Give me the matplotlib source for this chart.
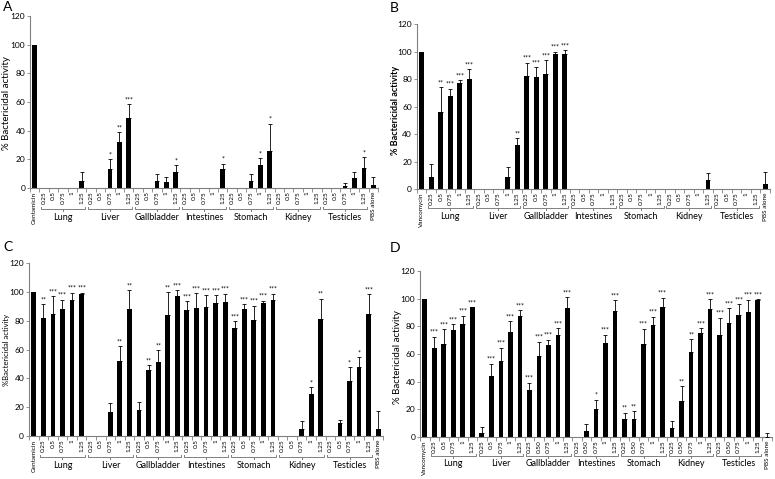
import numpy as np
import matplotlib
matplotlib.use('Agg')
import matplotlib.pyplot as plt
from matplotlib.transforms import ScaledTranslation

plt.rcParams['font.family'] = ['Lato', 'DejaVu Sans']

# Dados
organs = ['Lung', 'Liver', 'Gallbladder', 'Intestines', 'Stomach', 'Kidney', 'Testicles']
conc = ['0.25', '0.5', '0.75', '1', '1.25']
conc_d = ['0.25', '0.50', '0.75', '1', '1.25']

# Painel A (gentamicina)
a_values = [100,
            0, 0, 0, 0, 5,
            0, 0, 13, 32, 49,
            0, 0, 5, 4, 11,
            0, 0, 0, 0, 13,
            0, 0, 5, 16, 26,
            0, 0, 0, 0, 0,
            0, 0, 1.5, 7, 14,
            2]
a_errors = [0,
            0, 0, 0, 0, 6,
            0, 0, 7, 7, 9.5,
            0, 0, 4.5, 4, 5,
            0, 0, 0, 0, 4,
            0, 0, 5, 5, 19,
            0, 0, 0, 0, 0,
            0, 0, 2, 4, 7.5,
            5.5]
a_stars = ['',
           '', '', '', '', '',
           '', '', '*', '**', '***',
           '', '', '', '', '*',
           '', '', '', '', '*',
           '', '', '', '*', '*',
           '', '', '', '', '',
           '', '', '', '', '*',
           '']

# Painel B (vancomicina)
b_values = [100,
            8.5, 56, 67.5, 77, 80,
            0, 0, 0, 8.5, 32,
            82, 81.5, 84, 98, 98.5,
            0, 0, 0, 0, 0,
            0, 0, 0, 0, 0,
            0, 0, 0, 0, 6.5,
            0, 0, 0, 0, 0,
            3.4]
b_errors = [0,
            9.5, 18, 5.5, 2, 7.4,
            0, 0, 0, 7.2, 5,
            10, 7.4, 9.7, 2, 2.5,
            0, 0, 0, 0, 0,
            0, 0, 0, 0, 0,
            0, 0, 0, 0, 5.4,
            0, 0, 0, 0, 0,
            9.2]
b_stars = ['',
           '', '**', '***', '***', '***',
           '', '', '', '', '**',
           '***', '***', '***', '***', '***',
           '', '', '', '', '',
           '', '', '', '', '',
           '', '', '', '', '',
           '', '', '', '', '',
           '']

# Painel C (gentamicina)
c_values = [100,
            82, 84.6, 88.2, 94.7, 98.8,
            0, 0, 16.4, 52.3, 88,
            17.8, 45.6, 51, 84, 97,
            87.3, 89, 89.4, 92.4, 92.9,
            75, 87.8, 80.4, 92, 94.2,
            0, 0, 5, 29, 81,
            0, 8.8, 38.5, 48, 85,
            5]
c_errors = [0,
            9.7, 12.4, 6.5, 4.8, 0.7,
            0, 0, 6.2, 10.1, 13.5,
            5.5, 3.4, 8.5, 16, 4,
            6.2, 10, 8.3, 5.3, 5.9,
            4.7, 3.7, 10.1, 2, 4.6,
            0, 0, 5.4, 4.9, 14.4,
            0, 2.2, 9.5, 6.8, 13.4,
            12]
c_stars = ['',
           '**', '***', '***', '***', '***',
           '', '', '', '**', '**',
           '', '**', '**', '**', '***',
           '***', '***', '***', '***', '***',
           '***', '***', '***', '***', '***',
           '', '', '', '*', '**',
           '', '', '*', '*', '***',
           '']

# Painel D (vancomicina)
d_values = [100,
            64, 67.5, 77, 81.4, 94,
            2.7, 44.3, 55, 76, 87.7,
            33.7, 58.3, 66.3, 74, 93.5,
            0, 4, 20.5, 68, 91,
            13.3, 13.3, 67, 80.7, 94,
            6.5, 26, 61.2, 75.2, 92.3,
            74, 82.6, 88.2, 90.4, 98.8,
            0]
d_errors = [0,
            8.5, 10.3, 4.4, 6.3, 0,
            4.8, 8.7, 9.6, 7.6, 4.3,
            5.6, 10.7, 4.1, 5, 7.9,
            0, 5.6, 6.5, 6, 7.8,
            4.3, 5.7, 11.3, 6.3, 6.7,
            5.3, 10.6, 9.4, 3.8, 7.5,
            12.3, 10.4, 7.8, 8.9, 0.7,
            3]
d_stars = ['',
           '***', '***', '***', '***', '***',
           '', '***', '***', '***', '***',
           '***', '***', '***', '***', '***',
           '', '', '*', '***', '***',
           '**', '**', '***', '***', '***',
           '', '**', '**', '***', '***',
           '***', '***', '***', '***', '***',
           '']

W, H = 775, 479


def draw_panel(ax, letter, letter_xy, control, values, errors, stars, tick_groups,
               ylabel, ylabel_xy, ylabel_size=7, ylabel_weight='normal',
               brace_off=15, label_off=21.5):
    values = np.array(values, dtype=float)
    errors = np.array(errors, dtype=float)
    x = np.arange(len(values))

    labels = [control]
    for g in tick_groups:
        labels += g
    labels.append('PBS alone')

    ax.bar(x, values, width=0.5, color='black', zorder=2)
    has_err = errors > 0
    ax.errorbar(x[has_err], values[has_err],
                yerr=[np.zeros(has_err.sum()), errors[has_err]],
                fmt='none', ecolor='black', elinewidth=0.6, capsize=1.3, capthick=0.6, zorder=3)
    for xi, v, e, s in zip(x, values, errors, stars):
        if s:
            ax.text(xi, v + e + 0.5, s, ha='center', va='bottom', fontsize=5)

    ax.set_xlim(-0.5, len(values) - 0.5)
    ax.set_ylim(0, 120)
    ax.set_yticks(range(0, 121, 20))
    ax.set_xticks(x)
    ax.set_xticklabels(labels, rotation=90, fontsize=4.6)
    ax.set_xticks(np.arange(-0.5, len(values)), minor=True)
    ax.tick_params(axis='x', which='major', length=0, pad=2.5)
    ax.tick_params(axis='x', which='minor', length=3, width=0.6, color='#808080')
    ax.tick_params(axis='y', labelsize=6, length=2, width=0.6, color='#808080', pad=1.5)
    for side in ['top', 'right']:
        ax.spines[side].set_visible(False)
    for side in ['left', 'bottom']:
        ax.spines[side].set_color('#808080')
        ax.spines[side].set_linewidth(0.8)

    fig = ax.figure
    fig.text(ylabel_xy[0] / W, 1 - ylabel_xy[1] / H, ylabel, rotation=90,
             ha='center', va='center', fontsize=ylabel_size, fontweight=ylabel_weight)

    # chaves e nomes dos órgãos abaixo do eixo
    base = ax.get_xaxis_transform()
    for i, organ in enumerate(organs):
        x0 = 1 + 5 * i - 0.35
        x1 = 1 + 5 * i + 4 + 0.35
        xm = (x0 + x1) / 2
        tr = base + ScaledTranslation(0, -brace_off / 72, fig.dpi_scale_trans)
        ax.plot([x0, x0, xm, xm, xm, x1, x1], [0.012, 0, 0, -0.012, 0, 0, 0.012],
                transform=tr, color='#808080', lw=0.7, clip_on=False)
        tr2 = base + ScaledTranslation(0, -label_off / 72, fig.dpi_scale_trans)
        ax.text(xm, 0, organ, transform=tr2, ha='center', va='center', fontsize=6.5)

    fig.text(letter_xy[0] / W, 1 - letter_xy[1] / H, letter,
             fontsize=10, va='bottom', ha='left')


fig = plt.figure(figsize=(7.75, 4.79), dpi=100)
ax_a = fig.add_axes([0.0387, 0.6075, 0.449, 0.359])
ax_b = fig.add_axes([0.538, 0.6054, 0.4555, 0.3445])
ax_c = fig.add_axes([0.0374, 0.0898, 0.4568, 0.361])
ax_d = fig.add_axes([0.542, 0.0877, 0.454, 0.3466])

groups_abc = [conc] * 7
groups_d = [conc, conc] + [conc_d] * 5

draw_panel(ax_a, 'A', (3, 13), 'Gentamicin', a_values, a_errors, a_stars, groups_abc,
           '% Bactericidal activity', (7, 103))
draw_panel(ax_b, 'B', (390, 14), 'Vancomycin', b_values, b_errors, b_stars, groups_abc,
           '% Bactericidal activity', (396, 110), ylabel_size=6.5, ylabel_weight='bold',
           brace_off=14, label_off=19.5)
draw_panel(ax_c, 'C', (3, 253), 'Gentamicin', c_values, c_errors, c_stars, groups_abc,
           '%Bactericidal activity', (7, 350), ylabel_size=5.5)
draw_panel(ax_d, 'D', (390, 254), 'Vancomycin', d_values, d_errors, d_stars, groups_d,
           '% Bactericidal activity', (398, 357), brace_off=13.5, label_off=19)

fig.savefig('out.png', dpi=100)
